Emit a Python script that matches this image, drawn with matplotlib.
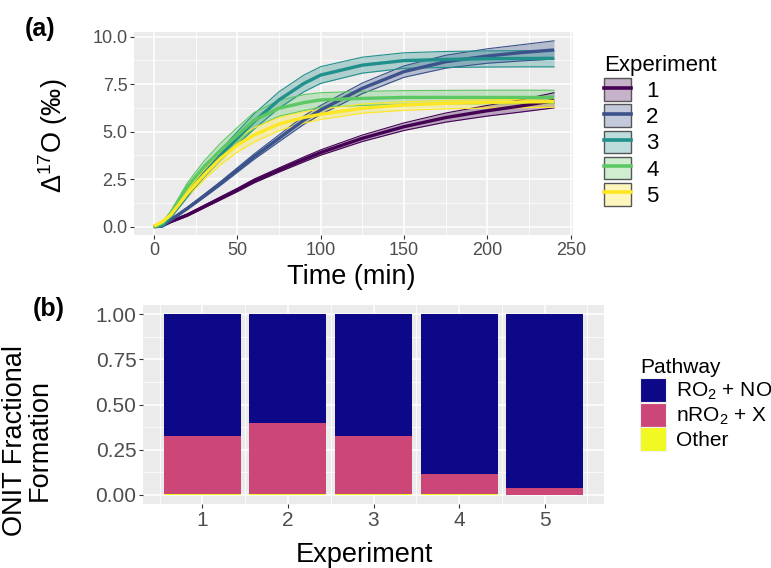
import matplotlib
matplotlib.use("Agg")
import matplotlib.pyplot as plt
from matplotlib.patches import Patch
from matplotlib.lines import Line2D
import numpy as np

plt.rcParams['font.family'] = ['Liberation Sans', 'DejaVu Sans']
plt.rcParams['mathtext.fontset'] = 'custom'
plt.rcParams['mathtext.rm'] = 'Liberation Sans'
plt.rcParams['mathtext.it'] = 'Liberation Sans:italic'
plt.rcParams['mathtext.bf'] = 'Liberation Sans:bold'

# ---------------- data: panel (a) ----------------
time_min = [0, 5, 10, 20, 30, 40, 50, 60, 75, 90, 100, 125, 150, 175, 200, 220, 240]

exp1_mid = [0, 0.05, 0.26, 0.61, 1.05, 1.49, 1.93, 2.40, 2.98, 3.54, 3.90, 4.65, 5.26, 5.74, 6.10, 6.35, 6.63]
exp1_hi  = [0, 0.07, 0.30, 0.67, 1.12, 1.57, 2.02, 2.50, 3.09, 3.67, 4.04, 4.82, 5.46, 5.98, 6.38, 6.67, 7.05]
exp1_lo  = [0, 0.03, 0.22, 0.55, 0.98, 1.41, 1.84, 2.30, 2.87, 3.41, 3.76, 4.48, 5.06, 5.50, 5.82, 6.03, 6.25]

exp2_mid = [0, 0.03, 0.35, 0.96, 1.61, 2.28, 2.98, 3.68, 4.65, 5.61, 6.14, 7.28, 8.16, 8.68, 8.98, 9.16, 9.30]
exp2_hi  = [0, 0.05, 0.39, 1.02, 1.69, 2.38, 3.10, 3.82, 4.83, 5.83, 6.38, 7.56, 8.46, 9.02, 9.36, 9.57, 9.78]
exp2_lo  = [0, 0.01, 0.31, 0.90, 1.53, 2.18, 2.86, 3.54, 4.47, 5.39, 5.90, 7.00, 7.86, 8.34, 8.60, 8.72, 8.82]

exp3_mid = [0, 0.05, 0.53, 1.67, 2.80, 3.77, 4.65, 5.53, 6.67, 7.54, 7.98, 8.50, 8.74, 8.80, 8.84, 8.85, 8.86]
exp3_hi  = [0, 0.07, 0.60, 1.80, 3.00, 4.05, 5.00, 5.93, 7.10, 7.98, 8.42, 8.92, 9.15, 9.22, 9.25, 9.26, 9.27]
exp3_lo  = [0, 0.03, 0.46, 1.54, 2.60, 3.50, 4.32, 5.13, 6.24, 7.10, 7.54, 8.08, 8.33, 8.38, 8.40, 8.41, 8.41]

exp4_mid = [0, 0.18, 0.70, 2.10, 3.16, 4.03, 4.82, 5.60, 6.23, 6.53, 6.67, 6.75, 6.80, 6.80, 6.80, 6.80, 6.80]
exp4_hi  = [0, 0.22, 0.80, 2.30, 3.45, 4.40, 5.22, 6.00, 6.65, 6.95, 7.05, 7.12, 7.16, 7.17, 7.18, 7.18, 7.18]
exp4_lo  = [0, 0.14, 0.60, 1.90, 2.87, 3.66, 4.42, 5.20, 5.81, 6.11, 6.29, 6.38, 6.44, 6.46, 6.47, 6.48, 6.48]

exp5_mid = [0.03, 0.26, 0.61, 1.75, 2.72, 3.60, 4.30, 4.82, 5.40, 5.75, 5.91, 6.23, 6.40, 6.49, 6.54, 6.56, 6.58]
exp5_hi  = [0.03, 0.29, 0.68, 1.92, 2.98, 3.93, 4.68, 5.20, 5.75, 6.05, 6.18, 6.45, 6.58, 6.64, 6.68, 6.71, 6.74]
exp5_lo  = [0.03, 0.23, 0.54, 1.58, 2.46, 3.27, 3.92, 4.44, 5.05, 5.45, 5.64, 5.97, 6.12, 6.20, 6.24, 6.26, 6.28]

experiments = ['1', '2', '3', '4', '5']
exp_colors = ['#440154', '#3B528B', '#21908C', '#5DC863', '#FDE725']

# ---------------- data: panel (b) ----------------
bar_experiments = [1, 2, 3, 4, 5]
frac_other = [0.005, 0.005, 0.005, 0.005, 0.0]
frac_nro2x = [0.321, 0.395, 0.321, 0.109, 0.037]
frac_ro2no = [0.674, 0.600, 0.674, 0.886, 0.963]
pathways = [r'RO$_2$ + NO', r'nRO$_2$ + X', 'Other']
path_colors = ['#0D0887', '#CC4678', '#F0F921']

# ---------------- figure ----------------
W, H = 771, 568
fig = plt.figure(figsize=(W / 100, H / 100), dpi=100)
bg = '#EBEBEB'

def px_axes(l, t, r, b):
    return fig.add_axes([l / W, (H - b) / H, (r - l) / W, (b - t) / H])

def style(ax, tick_fs):
    ax.set_facecolor(bg)
    for s in ax.spines.values():
        s.set_visible(False)
    ax.grid(which='major', color='white', linewidth=1.1)
    ax.grid(which='minor', color='white', linewidth=0.55)
    ax.set_axisbelow(True)
    ax.tick_params(which='major', length=2.7, width=0.8, color='#333333',
                   labelsize=tick_fs, labelcolor='#4D4D4D', pad=2)
    ax.tick_params(which='minor', length=0)

# panel a
ax1 = px_axes(134, 31.7, 572.7, 235)
style(ax1, 13)
series = [(exp1_mid, exp1_lo, exp1_hi), (exp2_mid, exp2_lo, exp2_hi),
          (exp3_mid, exp3_lo, exp3_hi), (exp4_mid, exp4_lo, exp4_hi),
          (exp5_mid, exp5_lo, exp5_hi)]
for (mid, lo, hi), c in zip(series, exp_colors):
    ax1.fill_between(time_min, lo, hi, color=c, alpha=0.3, linewidth=0, zorder=2)
    ax1.plot(time_min, lo, color=c, lw=0.8, zorder=3)
    ax1.plot(time_min, hi, color=c, lw=0.8, zorder=3)
for (mid, lo, hi), c in zip(series, exp_colors):
    ax1.plot(time_min, mid, color=c, lw=2.4, zorder=4, solid_capstyle='butt')
ax1.set_xlim(-12, 251.2)
ax1.set_ylim(-0.44, 10.26)
ax1.set_xticks([0, 50, 100, 150, 200, 250])
ax1.set_xticks([25, 75, 125, 175, 225], minor=True)
ax1.set_yticks([0, 2.5, 5, 7.5, 10])
ax1.set_yticklabels(['0.0', '2.5', '5.0', '7.5', '10.0'])
ax1.set_yticks([1.25, 3.75, 6.25, 8.75], minor=True)
ax1.set_xlabel('Time (min)', fontsize=19.5, va='top')
ax1.xaxis.set_label_coords(0.496, -0.145)
ax1.set_ylabel('Δ$^{17}$O (‰)', fontsize=19.5)
ax1.yaxis.set_label_coords(-0.146, 0.49)

handles_a = []
for c in exp_colors:
    handles_a.append((Patch(facecolor=c, alpha=0.3, edgecolor='none'),
                      Patch(facecolor='none', edgecolor='#555555', linewidth=1.0),
                      Line2D([0], [0], color=c, lw=2.6)))
leg_a = fig.legend(handles_a, experiments, loc='upper left',
                   bbox_to_anchor=(593 / W, (H - 44) / H), frameon=False,
                   fontsize=16, title='Experiment', title_fontsize=16,
                   handlelength=1.2, handleheight=1.2, labelspacing=0.1,
                   handletextpad=0.7, alignment='left', borderpad=0)

# panel b
ax2 = px_axes(143, 305, 604, 504)
style(ax2, 15)
ax2.bar(bar_experiments, frac_other, width=0.9, color=path_colors[2], zorder=2)
b1 = np.array(frac_other)
ax2.bar(bar_experiments, frac_nro2x, width=0.9, bottom=b1, color=path_colors[1], zorder=2)
b2 = b1 + np.array(frac_nro2x)
ax2.bar(bar_experiments, frac_ro2no, width=0.9, bottom=b2, color=path_colors[0], zorder=2)
ax2.set_xlim(0.305, 5.695)
ax2.set_ylim(-0.05, 1.05)
ax2.set_xticks([1, 2, 3, 4, 5])
ax2.set_xticks([0.5, 1.5, 2.5, 3.5, 4.5, 5.5], minor=True)
ax2.set_yticks([0, 0.25, 0.5, 0.75, 1.0])
ax2.set_yticklabels(['0.00', '0.25', '0.50', '0.75', '1.00'])
ax2.set_yticks([0.125, 0.375, 0.625, 0.875], minor=True)
ax2.set_xlabel('Experiment', fontsize=19.5, va='top')
ax2.xaxis.set_label_coords(0.48, -0.19)
ax2.set_ylabel('ONIT Fractional\nFormation', fontsize=19.5, linespacing=0.95)
ax2.yaxis.set_label_coords(-0.195, 0.32)

handles_b = [Patch(facecolor=c, edgecolor='#F2F2F2', linewidth=0.8) for c in path_colors]
leg_b = fig.legend(handles_b, pathways, loc='upper left',
                   bbox_to_anchor=(630 / W, (H - 348) / H), frameon=False,
                   fontsize=15, title='Pathway', title_fontsize=15,
                   handlelength=1.25, handleheight=1.4, labelspacing=0.02,
                   handletextpad=0.45, alignment='left', borderpad=0)

fig.text(25 / W, 1 - 17 / H, '(a)', fontsize=18, fontweight='bold', va='top', ha='left')
fig.text(33 / W, 1 - 297 / H, '(b)', fontsize=18, fontweight='bold', va='top', ha='left')

fig.savefig('out.png', dpi=100, facecolor='white')
